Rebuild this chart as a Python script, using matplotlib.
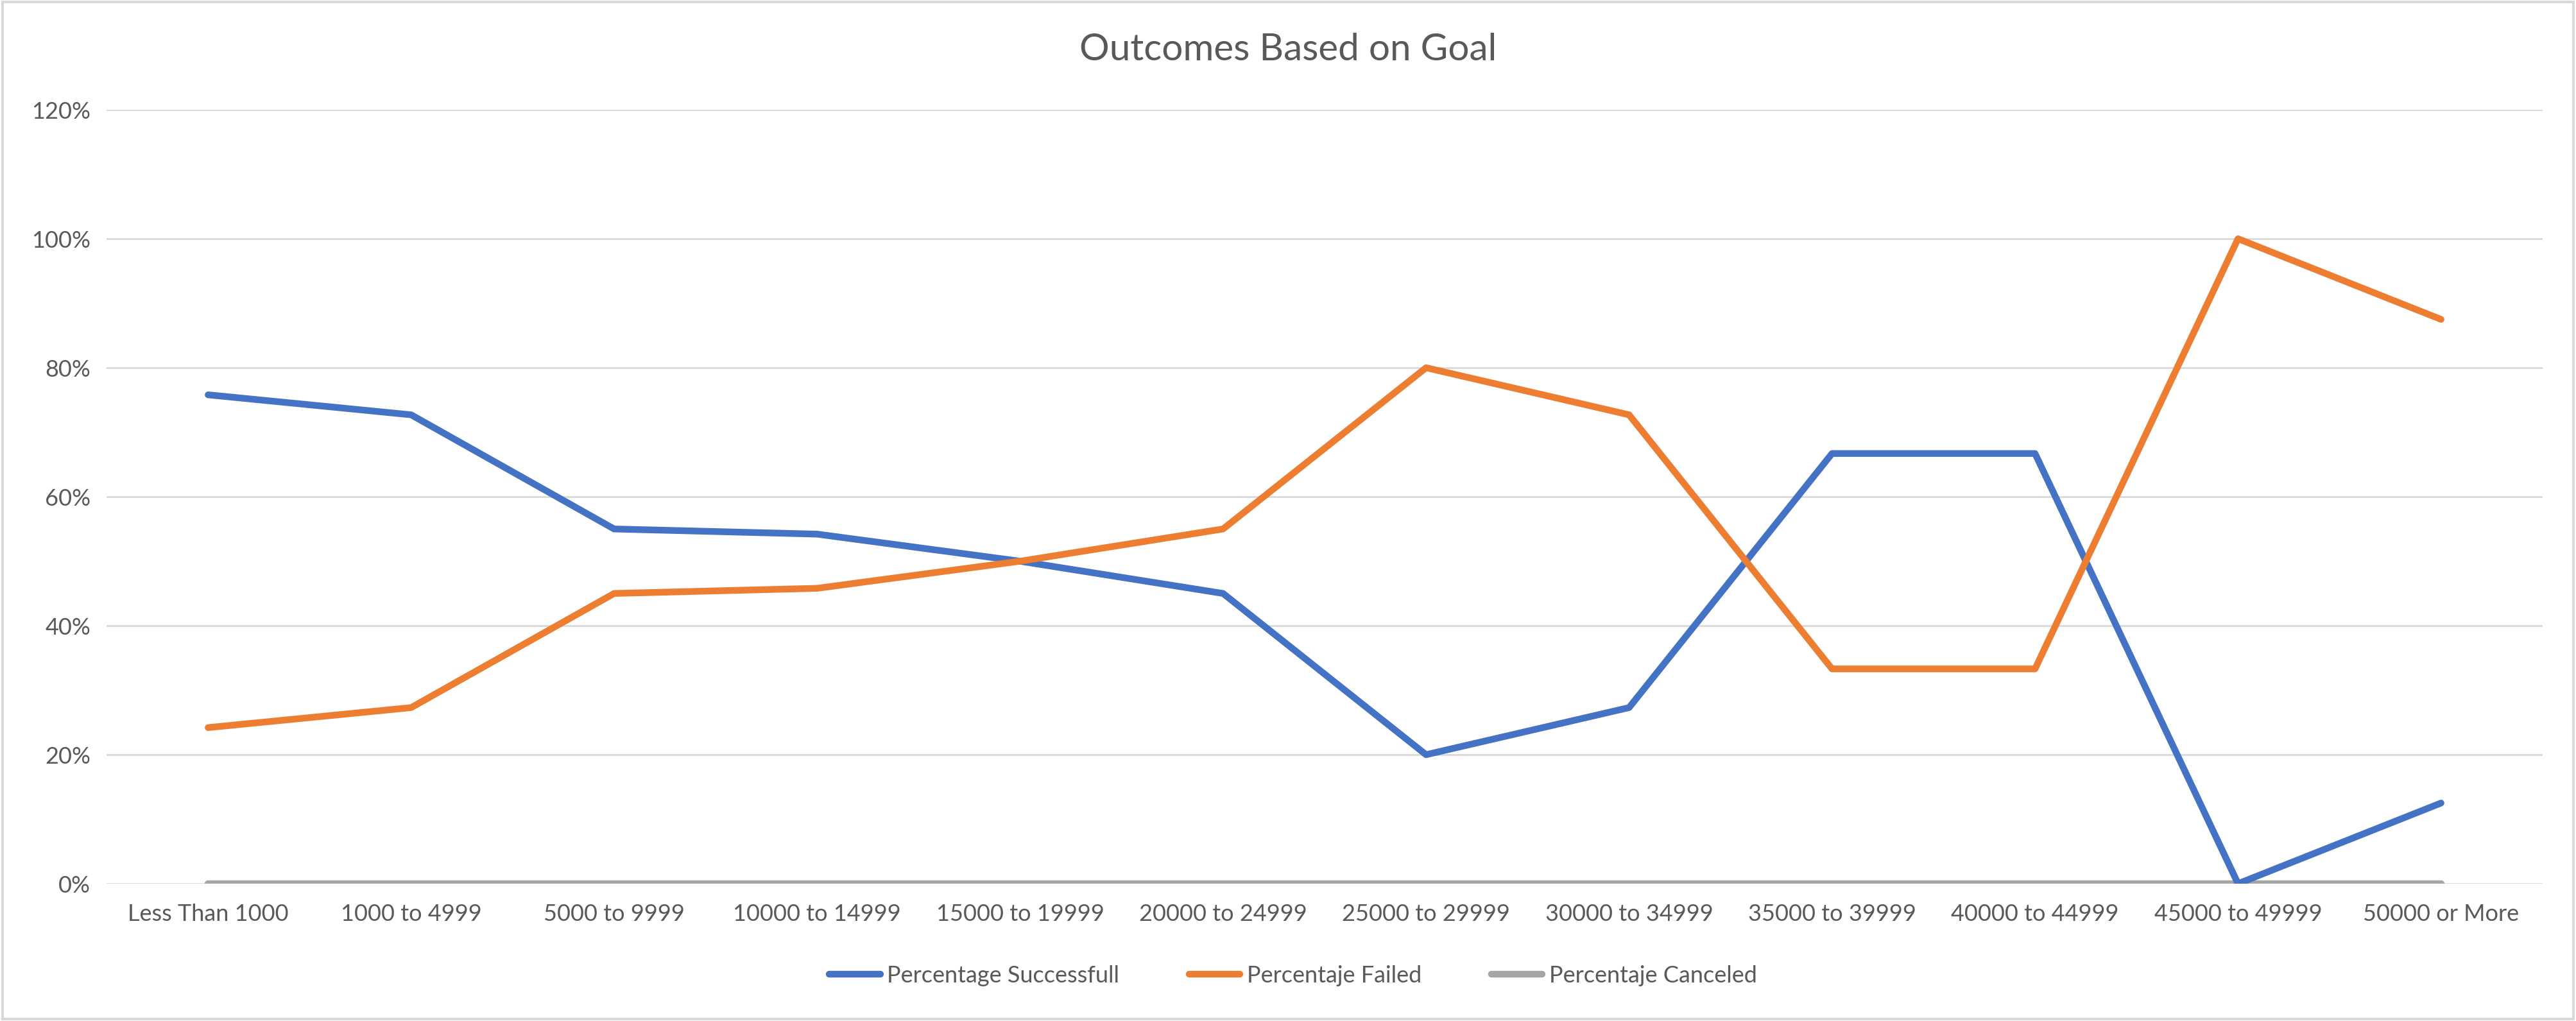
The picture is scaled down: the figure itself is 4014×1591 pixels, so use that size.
import matplotlib

matplotlib.use("Agg")
import matplotlib.pyplot as plt
from matplotlib.patches import Rectangle
from matplotlib.ticker import FuncFormatter

categories = [
    "Less Than 1000", "1000 to 4999", "5000 to 9999", "10000 to 14999",
    "15000 to 19999", "20000 to 24999", "25000 to 29999", "30000 to 34999",
    "35000 to 39999", "40000 to 44999", "45000 to 49999", "50000 or More",
]
pct_successful = [0.758, 0.727, 0.550, 0.542, 0.500, 0.450, 0.200, 0.273, 0.667, 0.667, 0.000, 0.125]
pct_failed = [0.242, 0.273, 0.450, 0.458, 0.500, 0.550, 0.800, 0.727, 0.333, 0.333, 1.000, 0.875]
pct_canceled = [0.0] * 12

TEXT = "#595959"
LW = 7.5
plt.rcParams["font.family"] = ["Lato", "DejaVu Sans"]

fig = plt.figure(figsize=(40.14, 15.91), dpi=100)
ax = fig.add_axes([0.0414, 0.1345, 0.9456, 0.758])

x = range(len(categories))
ax.plot(x, pct_successful, color="#4472C4", lw=LW, label="Percentage Successfull", solid_capstyle="round")
ax.plot(x, pct_failed, color="#ED7D31", lw=LW, label="Percentaje Failed", solid_capstyle="round")
ax.plot(x, pct_canceled, color="#A5A5A5", lw=LW, label="Percentaje Canceled", solid_capstyle="round", zorder=1)

ax.set_xlim(-0.5, len(categories) - 0.5)
ax.set_ylim(0, 1.2)
ax.set_yticks([i * 0.2 for i in range(7)])
ax.yaxis.set_major_formatter(FuncFormatter(lambda v, _: f"{v * 100:.0f}%"))
ax.set_xticks(list(x))
ax.set_xticklabels(categories)
ax.tick_params(length=0, labelsize=26, colors=TEXT, pad=22)
ax.tick_params(axis="y", pad=18)
ax.grid(axis="y", color="#D9D9D9", lw=2)
ax.set_axisbelow(True)
for s in ax.spines.values():
    s.set_visible(False)

fig.text(0.5, 0.951, "Outcomes Based on Goal", ha="center", va="center", fontsize=42, color=TEXT)

leg = fig.legend(loc="center", bbox_to_anchor=(0.502, 0.0446), ncol=3, frameon=False,
                 fontsize=26, handlelength=2.2, columnspacing=3.0, handletextpad=0.3)
for t in leg.get_texts():
    t.set_color(TEXT)

fig.patches.append(Rectangle((0.001, 0.002), 0.998, 0.996, transform=fig.transFigure,
                             fill=False, edgecolor="#D9D9D9", lw=3))

fig.savefig("out.png", dpi=100, facecolor="white")
plt.close(fig)
